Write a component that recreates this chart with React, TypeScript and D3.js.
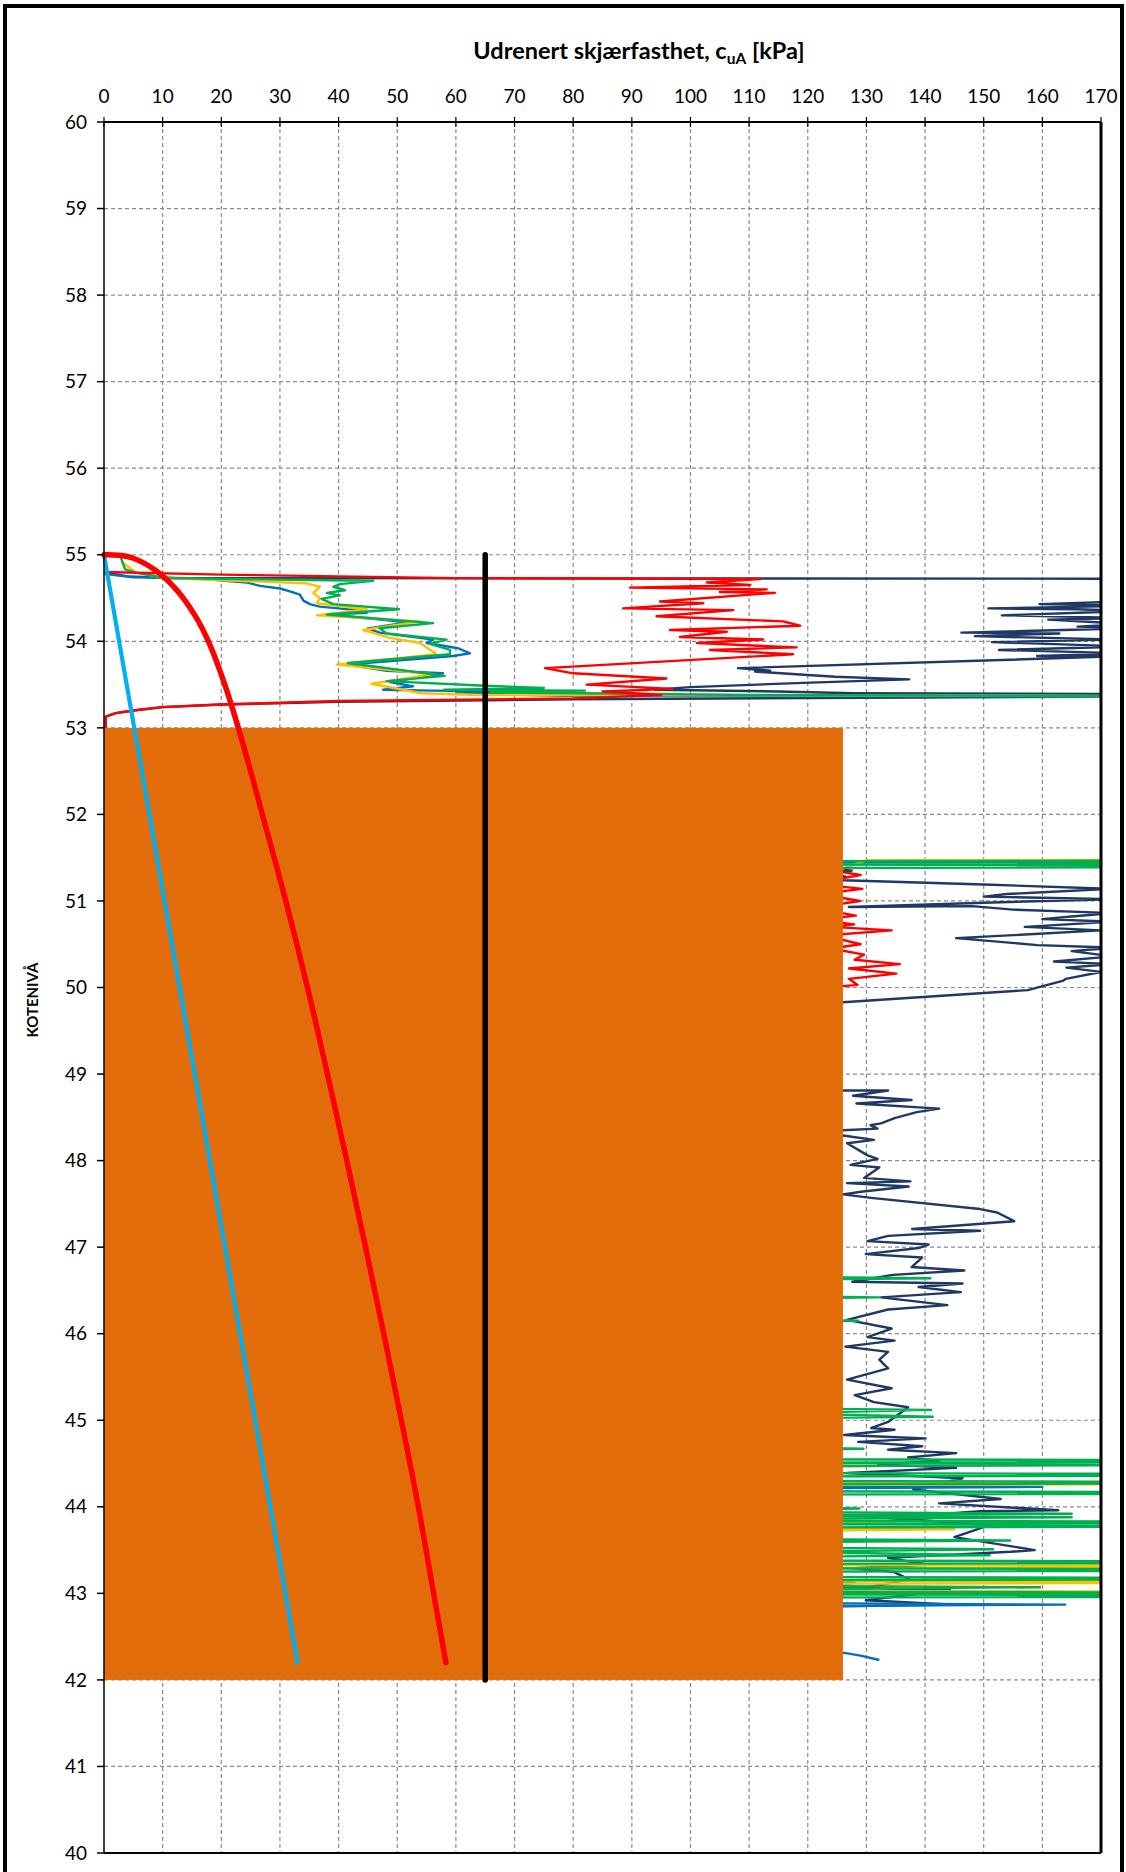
import React from "react";
import * as d3 from "d3";

// Undrained shear strength profile, cuA [kPa] against elevation (kote) [m]
type Pt = [number, number]; // [cuA kPa, kote m]

const cuTicks = [0, 10, 20, 30, 40, 50, 60, 70, 80, 90, 100, 110, 120, 130, 140, 150, 160, 170];
const koteTicks = [40, 41, 42, 43, 44, 45, 46, 47, 48, 49, 50, 51, 52, 53, 54, 55, 56, 57, 58, 59, 60];

// Shaded soil zone
const zoneCu = [0, 126];
const zoneKote = [42, 53];

// Design profiles
const designRed: Pt[] = [
  [0, 55], [2.5, 54.995], [5, 54.96], [9, 54.81], [12.3, 54.6], [15.5, 54.3], [17.8, 54.0],
  [20.6, 53.5], [22.9, 53.0], [25.0, 52.5], [27.0, 52.0], [31.0, 51.0], [34.7, 50.0],
  [38.1, 49], [41.4, 48], [44.6, 47], [47.7, 46], [50.7, 45], [53.6, 44], [56.2, 43], [58.3, 42.2],
];
const designBlue: Pt[] = [[0, 55], [33, 42.2]];
const designBlack: Pt[] = [[65, 55], [65, 42]];

// CPTU interpretations
const cptuNavy: Pt[] = [
  [0, 54.8], [4, 54.75], [12, 54.73], [250, 54.72],
  [175, 54.46], [159.5, 54.43], [175, 54.41], [150.8, 54.38], [165.8, 54.37], [175, 54.35],
  [153.1, 54.3], [175, 54.27], [161, 54.25], [175, 54.2], [166, 54.17], [175, 54.15],
  [146.2, 54.1], [162.9, 54.09], [148.5, 54.06], [172, 54.02], [151.4, 53.99], [175, 53.94],
  [152.6, 53.9], [175, 53.86], [159.1, 53.83], [175, 53.83],
  [108.1, 53.69], [113.6, 53.66], [111, 53.65], [120, 53.61], [124.7, 53.59], [137.3, 53.56],
  [119.2, 53.52], [100, 53.47], [93.9, 53.44], [115, 53.42], [127.8, 53.4], [250, 53.38],
  [170, 53.36], [120, 53.345], [80, 53.33], [40, 53.3], [20, 53.27], [10, 53.24], [5, 53.2],
  [2, 53.17], [0.3, 53.13], [0.3, 52.95], [60, 52.3], [118, 51.42],
  [127.5, 51.35], [124, 51.31], [126.5, 51.28], [124, 51.26], [126, 51.24], [150, 51.19],
  [172, 51.14], [160, 51.1], [154, 51.08], [150, 51.05], [172, 51.02], [150, 50.98],
  [127, 50.93], [148, 50.94], [155, 50.9], [172, 50.86], [165, 50.82], [160, 50.79],
  [172, 50.76], [157, 50.7], [170, 50.66], [145.3, 50.57], [159.2, 50.49], [172, 50.46],
  [165, 50.42], [172, 50.36], [162, 50.3], [172, 50.27], [164.1, 50.23], [170, 50.18],
  [164, 50.1], [163.6, 50.08], [157.5, 49.97], [126, 49.83], [112, 49.76], [115, 49.2],
  [120, 48.85],
  [126, 48.81], [133.7, 48.81], [127.7, 48.75], [137.7, 48.7], [128.3, 48.66], [142.4, 48.6],
  [138.6, 48.56], [134.8, 48.49], [132.5, 48.43], [130.7, 48.41], [131.9, 48.37], [126, 48.35],
  [124, 48.3], [126, 48.29], [131.3, 48.24], [126.7, 48.2], [130.2, 48.06], [131.9, 48.02],
  [127.3, 47.95], [132.2, 47.92], [129.6, 47.8], [137.5, 47.76], [126.7, 47.74], [137.2, 47.7],
  [129.1, 47.64], [126, 47.61], [130.8, 47.57], [149.4, 47.44], [152.3, 47.4], [155.2, 47.3],
  [137.8, 47.21], [149.4, 47.19], [133.7, 47.13], [130.2, 47.07], [140.6, 47.03], [138.9, 46.99],
  [129.9, 46.92], [139.5, 46.88], [137.7, 46.77], [146.7, 46.73], [134.5, 46.68], [127.6, 46.6],
  [146.4, 46.58], [138.9, 46.54], [146.1, 46.48], [132.5, 46.42], [143.8, 46.33], [133.7, 46.28],
  [126.7, 46.16], [134.3, 46.06], [130.2, 45.96], [134.8, 45.92], [126.4, 45.85], [133.7, 45.79],
  [132.2, 45.7], [133.7, 45.6], [126.7, 45.47], [134.3, 45.37], [128, 45.29], [131.3, 45.21],
  [137.1, 45.15], [133.7, 44.98], [130.8, 44.91], [134.8, 44.89], [126.2, 44.83], [140.1, 44.79],
  [128.6, 44.75], [139.5, 44.7], [133.7, 44.66], [145.3, 44.62], [137.1, 44.57], [142.4, 44.53],
  [132, 44.49], [145.3, 44.45], [126.7, 44.39], [146.4, 44.33], [138, 44.2], [152.9, 44.09],
  [142.4, 44.04], [162.7, 43.96], [149.4, 43.95], [133.7, 43.87], [151.1, 43.79], [145, 43.65],
  [158.7, 43.5], [154.6, 43.48], [133.7, 43.41], [140.7, 43.33], [127.5, 43.29], [134.5, 43.25],
  [137.4, 43.16], [129.3, 43.06], [144.3, 43.04], [129.9, 42.92], [144.9, 42.87], [126, 42.85],
  [115, 42.8],
];

const cptuBlue: Pt[] = [
  [0, 54.78], [5, 54.74], [15, 54.73], [24.3, 54.68], [26.6, 54.64], [30, 54.61], [32, 54.57],
  [33.4, 54.54], [34, 54.47], [35.1, 54.43], [36.8, 54.4], [43.1, 54.36], [44.8, 54.33],
  [38, 54.31], [52, 54.22], [45, 54.15], [47, 54.1], [56.1, 54.02], [55, 53.98], [60.4, 53.92],
  [62.4, 53.86], [59.5, 53.83], [41.4, 53.73], [48.2, 53.66], [57.8, 53.63], [48.8, 53.53],
  [52.7, 53.48], [47.6, 53.44], [56.1, 53.43], [68, 53.42], [60, 53.4], [78, 53.37],
  [250, 53.35], [250, 51.46], [122, 51.445], [110, 51.0], [110, 44.27],
  [110, 44.25], [160, 44.23], [110, 44.21], [110, 43.14], [128, 43.12], [124, 43.08],
  [131, 43.05], [115, 43.0], [110, 42.89], [163.9, 42.87], [110, 42.85], [110, 42.33],
  [126.5, 42.31], [129, 42.28], [132.2, 42.23],
];

const cptuYellow: Pt[] = [
  [3, 54.92], [5.5, 54.79], [10.5, 54.73], [34.5, 54.67], [36.8, 54.63], [35.7, 54.56],
  [36.8, 54.5], [36.3, 54.44], [44.8, 54.37], [36.3, 54.3], [53.9, 54.23], [44.2, 54.13],
  [48.8, 54.04], [53.9, 53.98], [56.7, 53.85], [39.7, 53.73], [56.1, 53.62], [45.6, 53.51],
  [54.1, 53.4], [64.1, 53.38], [250, 53.36], [250, 51.48], [130, 51.47], [110, 51.0],
  [110, 44.49], [133, 44.47], [110, 44.45], [110, 44.29], [250, 44.27], [110, 44.25],
  [110, 43.84], [135, 43.82], [110, 43.8], [110, 43.76], [145, 43.74], [110, 43.72],
  [110, 43.33], [250, 43.31], [110, 43.29], [110, 43.15], [250, 43.13], [110, 43.11],
  [110, 43.03], [250, 43.01], [110, 42.99],
];

const cptuGreen: Pt[] = [
  [2.7, 55.0], [3.6, 54.83], [5.6, 54.79], [10.7, 54.73], [45.9, 54.7], [40.2, 54.66],
  [39.1, 54.63], [41.1, 54.59], [38, 54.56], [40.2, 54.53], [37.1, 54.49], [39.1, 54.43],
  [50.3, 54.37], [38, 54.31], [56.1, 54.21], [47, 54.15], [48.2, 54.09], [58.4, 54.02],
  [55.6, 53.97], [59, 53.9], [59, 53.85], [41.6, 53.75], [58.1, 53.6], [48.2, 53.54],
  [64.1, 53.49], [75, 53.46], [58, 53.44], [82, 53.43], [66, 53.41], [110, 53.38],
  [250, 53.35], [250, 51.47], [120, 51.46], [250, 51.44], [120, 51.42], [250, 51.4],
  [120, 51.38], [100, 50.5], [100, 46.7],
  [110, 46.66], [140.9, 46.64], [110, 46.62], [110, 46.44], [132.2, 46.42], [110, 46.4],
  [110, 46.17], [128.6, 46.15], [110, 46.13], [110, 45.14], [141, 45.12], [115, 45.08],
  [141.3, 45.04], [110, 45.02], [110, 44.69], [129.5, 44.67], [110, 44.65], [110, 44.55],
  [250, 44.53], [110, 44.51], [250, 44.49], [110, 44.47], [110, 44.39], [250, 44.37],
  [110, 44.35], [110, 44.3], [250, 44.28], [110, 44.26], [110, 44.18], [250, 44.16],
  [110, 44.14], [110, 44.0], [128.8, 43.98], [110, 43.96], [110, 43.94], [165, 43.92],
  [115, 43.9], [165, 43.88], [110, 43.86], [110, 43.84], [250, 43.82], [110, 43.8],
  [250, 43.78], [110, 43.76], [110, 43.63], [154.5, 43.61], [110, 43.59], [110, 43.53],
  [151.6, 43.51], [115, 43.48], [151, 43.44], [110, 43.42], [110, 43.38], [250, 43.36],
  [110, 43.34], [110, 43.29], [250, 43.27], [110, 43.25], [110, 43.19], [250, 43.17],
  [110, 43.15], [110, 43.09], [159.6, 43.07], [110, 43.05], [110, 43.02], [250, 43.0],
  [110, 42.99], [250, 42.97], [110, 42.95],
];

const cptuRed: Pt[] = [
  [0, 54.8], [20, 54.77], [60, 54.73], [111.9, 54.72], [102.8, 54.68], [110.2, 54.65],
  [89.7, 54.62], [113, 54.6], [105, 54.57], [114.4, 54.56], [94.8, 54.46], [102.2, 54.44],
  [88.5, 54.38], [107.3, 54.36], [94.2, 54.29], [115.8, 54.23], [118.7, 54.18], [96.5, 54.13],
  [106.2, 54.11], [98.2, 54.05], [112.4, 54.02], [101.1, 53.98], [118.1, 53.93], [103.3, 53.9],
  [117.5, 53.85], [75.2, 53.69], [80, 53.63], [95.9, 53.57], [82.3, 53.5], [97, 53.45],
  [85, 53.42], [95, 53.38], [80, 53.34], [40, 53.31], [20, 53.27], [10, 53.24], [5, 53.2],
  [2, 53.17], [0.3, 53.13], [0.3, 52.95], [60, 52.2], [118, 51.42],
  [129, 51.3], [121, 51.2], [129.3, 51.14], [122, 51.08], [128.9, 51.0], [121, 50.92],
  [128.2, 50.83], [122, 50.78], [127.9, 50.73], [124, 50.7], [134.3, 50.66], [123, 50.6],
  [129, 50.5], [124, 50.45], [129.6, 50.38], [128, 50.32], [135.7, 50.27], [127, 50.22],
  [135.1, 50.16], [127, 50.1], [128.5, 50.03], [118, 49.97], [100, 49.5],
];

const W = 1126;
const H = 1872;
const M = { left: 104, right: 1101, top: 122, bottom: 1853 };

const x = d3.scaleLinear().domain([0, 170]).range([M.left, M.right]);
const y = d3.scaleLinear().domain([40, 60]).range([M.bottom, M.top]);

const line = d3
  .line<Pt>()
  .x((d) => x(d[0]))
  .y((d) => y(d[1]));
const smooth = d3
  .line<Pt>()
  .x((d) => x(d[0]))
  .y((d) => y(d[1]))
  .curve(d3.curveCatmullRom);

const FONT = "Lato, 'Open Sans', sans-serif";
const traces: { data: Pt[]; color: string }[] = [
  { data: cptuNavy, color: "#1F3864" },
  { data: cptuBlue, color: "#0070C0" },
  { data: cptuYellow, color: "#FFC000" },
  { data: cptuGreen, color: "#00B050" },
  { data: cptuRed, color: "#FF0000" },
];

export default function App() {
  return (
    <>
      <style>{`body{margin:0;}`}</style>
      <svg width={W} height={H} style={{ display: "block" }} fontFamily={FONT}>
        <rect x={0} y={0} width={W} height={H} fill="#fff" />
        <defs>
          <clipPath id="plotClip">
            <rect x={M.left} y={M.top} width={M.right - M.left} height={M.bottom - M.top} />
          </clipPath>
        </defs>

        {/* grid */}
        <g stroke="#8a8a8a" strokeWidth={1.2} strokeDasharray="4 3">
          {cuTicks.slice(1, -1).map((t) => (
            <line key={"gx" + t} x1={x(t)} x2={x(t)} y1={M.top} y2={M.bottom} />
          ))}
          {koteTicks.slice(1, -1).map((t) => (
            <line key={"gy" + t} x1={M.left} x2={M.right} y1={y(t)} y2={y(t)} />
          ))}
        </g>

        {/* CPTU traces */}
        <g clipPath="url(#plotClip)" fill="none" strokeWidth={2.4} strokeLinejoin="round">
          {traces.map((t, i) => (
            <path key={i} d={line(t.data) || ""} stroke={t.color} />
          ))}
        </g>

        {/* soil zone */}
        <rect
          x={x(zoneCu[0])}
          y={y(zoneKote[1])}
          width={x(zoneCu[1]) - x(zoneCu[0])}
          height={y(zoneKote[0]) - y(zoneKote[1])}
          fill="#E36C0A"
        />

        {/* design lines */}
        <path d={line(designBlue) || ""} fill="none" stroke="#00B0F0" strokeWidth={4.2} strokeLinecap="round" />
        <path d={smooth(designRed) || ""} fill="none" stroke="#FF0000" strokeWidth={5.5} strokeLinecap="round" />
        <path d={line(designBlack) || ""} fill="none" stroke="#000" strokeWidth={5.5} strokeLinecap="round" />

        {/* plot frame */}
        <line x1={M.left} x2={M.left} y1={M.top} y2={M.bottom} stroke="#000" strokeWidth={1.5} />
        <line x1={M.left} x2={M.right} y1={M.top} y2={M.top} stroke="#000" strokeWidth={2} />
        <line x1={M.left} x2={M.right} y1={M.bottom} y2={M.bottom} stroke="#000" strokeWidth={2} />
        <line x1={M.right} x2={M.right} y1={M.top} y2={M.bottom} stroke="#000" strokeWidth={3} />

        {/* top axis */}
        <g>
          {cuTicks.map((t) => (
            <g key={"tx" + t}>
              <line x1={x(t)} x2={x(t)} y1={M.top - 5} y2={M.top + 5} stroke="#000" strokeWidth={1.2} />
              <text x={x(t)} y={103} textAnchor="middle" fontSize={19} fill="#000">
                {t}
              </text>
            </g>
          ))}
        </g>

        {/* left axis */}
        <g>
          {koteTicks.map((t) => (
            <g key={"ty" + t}>
              <line x1={M.left - 7} x2={M.left} y1={y(t)} y2={y(t)} stroke="#000" strokeWidth={1.5} />
              <text x={87} y={y(t)} dy="0.35em" textAnchor="end" fontSize={19} fill="#000">
                {t}
              </text>
            </g>
          ))}
        </g>

        {/* titles */}
        <text x={639} y={59} textAnchor="middle" fontSize={23.5} fontWeight="bold" fill="#000">
          Udrenert skjærfasthet, c
          <tspan fontSize={15.5} dy={5}>uA</tspan>
          <tspan dy={-5}> [kPa]</tspan>
        </text>
        <text
          transform="translate(38,1000) rotate(-90)"
          textAnchor="middle"
          fontSize={15}
          fontWeight="bold"
          fill="#000"
        >
          KOTENIVÅ
        </text>

        {/* outer frame */}
        <rect x={5} y={6} width={1117} height={H + 20} fill="none" stroke="#000" strokeWidth={4} />
      </svg>
    </>
  );
}
